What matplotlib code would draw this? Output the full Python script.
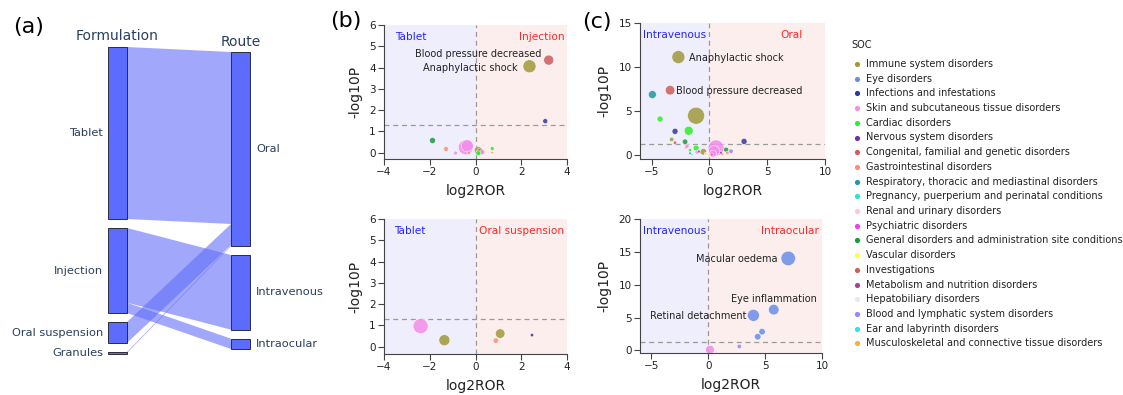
import matplotlib
matplotlib.use('Agg')
import matplotlib.pyplot as plt
from matplotlib.patches import Polygon, Rectangle

plt.rcParams['font.family'] = ['DejaVu Sans']

# ---- (a) sankey data
left_nodes = ['Tablet', 'Injection', 'Oral suspension', 'Granules']
right_nodes = ['Oral', 'Intravenous', 'Intraocular']
link_src = ['Tablet', 'Oral suspension', 'Granules', 'Injection', 'Injection']
link_dst = ['Oral', 'Oral', 'Oral', 'Intravenous', 'Intraocular']
link_val = [516, 63, 3, 224, 31]

# ---- SOC legend
soc_key = ['Immune', 'Eye', 'Infections', 'Skin', 'Cardiac', 'Nervous',
           'Congenital', 'Gastro', 'Respiratory', 'Pregnancy', 'Renal',
           'Psychiatric', 'General', 'Vascular', 'Investigations',
           'Metabolism', 'Hepatobiliary', 'Blood', 'Ear', 'Musculoskeletal']
soc_names = ['Immune system disorders', 'Eye disorders',
             'Infections and infestations',
             'Skin and subcutaneous tissue disorders', 'Cardiac disorders',
             'Nervous system disorders',
             'Congenital, familial and genetic disorders',
             'Gastrointestinal disorders',
             'Respiratory, thoracic and mediastinal disorders',
             'Pregnancy, puerperium and perinatal conditions',
             'Renal and urinary disorders', 'Psychiatric disorders',
             'General disorders and administration site conditions',
             'Vascular disorders', 'Investigations',
             'Metabolism and nutrition disorders', 'Hepatobiliary disorders',
             'Blood and lymphatic system disorders',
             'Ear and labyrinth disorders',
             'Musculoskeletal and connective tissue disorders']
soc_colors = ['#a0983a', '#6a8ee8', '#35359e', '#f48ceb', '#2cee2c', '#7a2d9e',
              '#d05a5e', '#fb9070', '#1a9aa5', '#22e6da', '#ffc6ce', '#f23cf2',
              '#169b3e', '#ffff3a', '#cd5c5c', '#b03a9e', '#e6e6fa', '#9d84ee',
              '#22e8f5', '#fdb02b']
COL = dict(zip(soc_key, soc_colors))

# ---- (b) Tablet vs Injection
bt_soc = ['Investigations', 'Immune', 'Infections', 'General', 'Gastro', 'Skin',
          'Skin', 'Skin', 'Gastro', 'Immune', 'Immune', 'Skin', 'Cardiac',
          'Cardiac', 'Gastro']
bt_x = [3.2, 2.36, 3.05, -1.88, -1.29, -0.87, -0.42, -0.36, -0.29, 0.12, 0.2,
        0.3, 0.12, 0.73, 0.73]
bt_y = [4.35, 4.06, 1.48, 0.57, 0.17, -0.02, 0.25, 0.32, 0.0, 0.1, 0.05, 0.02,
        -0.03, 0.19, 0.0]
bt_d = [10, 13, 5, 6, 5, 4, 15, 12, 3.5, 8, 7, 5, 5, 4, 2.5]
bt_lab = [('Blood pressure decreased', 2.9, 4.66, 'right'),
          ('Anaphylactic shock', 1.85, 3.98, 'right')]

# ---- (b) Tablet vs Oral suspension
bb_soc = ['Skin', 'Immune', 'Immune', 'Gastro', 'Infections']
bb_x = [-2.4, -1.36, 1.08, 0.89, 2.47]
bb_y = [0.96, 0.3, 0.61, 0.28, 0.54]
bb_d = [15, 11, 9.5, 5.5, 3.5]

# ---- (c) Intravenous vs Oral
ct_soc = ['Immune', 'Investigations', 'Respiratory', 'Immune', 'Cardiac',
          'Infections', 'Cardiac', 'Immune', 'Investigations', 'General',
          'Infections', 'Gastro', 'Skin', 'Cardiac', 'Cardiac', 'Respiratory',
          'Skin', 'Metabolism', 'Immune', 'Renal', 'Hepatobiliary', 'Vascular',
          'Musculoskeletal', 'Skin', 'Skin', 'Skin', 'Psychiatric', 'General',
          'Blood', 'Gastro', 'Gastro', 'Nervous', 'Ear']
ct_x = [-2.68, -3.4, -4.93, -1.15, -4.27, -2.97, -1.79, -3.26, -2.97, -2.1,
        3.0, -2.0, -1.93, -1.15, -1.67, -1.67, -1.07, -0.9, -0.52, -0.3, -0.1,
        0.0, 0.05, 0.58, 0.4, 0.3, 0.2, 1.45, 1.87, 1.55, 1.1, 1.0, -1.5]
ct_y = [11.14, 7.39, 6.9, 4.5, 4.13, 2.73, 2.8, 1.82, 1.44, 1.55, 1.59, 0.95,
        1.06, 0.83, 0.6, 0.26, 0.38, 0.45, 0.42, 0.2, 0.15, 0.04, 0.02, 0.85,
        0.5, 0.2, 0.1, 0.65, 0.48, 0.3, 0.18, 0.3, 0.1]
ct_d = [13, 9.5, 8, 17, 6, 6, 9, 4.5, 3.5, 5.5, 6, 4, 4, 6, 3.5, 2.5, 4, 3,
        6.5, 3, 3, 4, 3, 16, 11, 7, 3, 5, 4.5, 3.5, 3, 2.5, 2]
ct_lab = [('Anaphylactic shock', -1.76, 11.0, 'left'),
          ('Blood pressure decreased', -2.88, 7.35, 'left')]

# ---- (c) Intravenous vs Intraocular
cb_soc = ['Eye', 'Eye', 'Eye', 'Eye', 'Eye', 'Blood', 'Skin']
cb_x = [7.03, 5.76, 3.97, 4.73, 4.35, 2.73, 0.15]
cb_y = [14.0, 6.2, 5.33, 2.84, 2.08, 0.6, 0.1]
cb_d = [14.5, 10.5, 12, 6.5, 6.5, 4.5, 9]
cb_lab = [('Macular oedema', 6.09, 13.9, 'right'),
          ('Eye inflammation', 5.74, 7.87, 'center'),
          ('Retinal detachment', 3.32, 5.18, 'right')]

W, H = 1123, 395
fig = plt.figure(figsize=(W / 100, H / 100), dpi=100)

# overlay in pixel coordinates for the sankey, letters and legend
ov = fig.add_axes([0, 0, 1, 1])
ov.set_xlim(0, W)
ov.set_ylim(H, 0)
ov.axis('off')

NAVY = '#2a3f5f'
scale = 1 / 3
gap = 9
cy = 200.5


def stack(nodes, side):
    tot = {n: 0 for n in nodes}
    for s, d, v in zip(link_src, link_dst, link_val):
        tot[s if side == 'L' else d] += v
    hs = [max(tot[n] * scale, 2) for n in nodes]
    top = cy - (sum(hs) + gap * (len(nodes) - 1)) / 2
    pos = {}
    for n, h in zip(nodes, hs):
        pos[n] = [top, h]
        top += h + gap
    return pos


lpos = stack(left_nodes, 'L')
rpos = stack(right_nodes, 'R')
lx0, lx1 = 108, 127
rx0, rx1 = 231, 250
lcur = {n: p[0] for n, p in lpos.items()}
rcur = {n: p[0] for n, p in rpos.items()}
for s, d, v in zip(link_src, link_dst, link_val):
    h = v * scale
    y0, y1 = lcur[s], rcur[d]
    ov.add_patch(Polygon([(lx1, y0), (rx0, y1), (rx0, y1 + h), (lx1, y0 + h)],
                         closed=True, fc='#636efa', alpha=0.6, lw=0))
    lcur[s] += h
    rcur[d] += h
for n, (t, h) in lpos.items():
    ov.add_patch(Rectangle((lx0, t), lx1 - lx0, h, fc='#5b6cff', ec='#2b2b3b', lw=0.7))
    ov.text(lx0 - 5, t + h / 2, n, ha='right', va='center', fontsize=8.2, color=NAVY)
for n, (t, h) in rpos.items():
    ov.add_patch(Rectangle((rx0, t), rx1 - rx0, h, fc='#5b6cff', ec='#2b2b3b', lw=0.7))
    ov.text(rx1 + 6, t + h / 2, n, ha='left', va='center', fontsize=8.2, color=NAVY)
ov.text((lx0 + lx1) / 2, lpos['Tablet'][0] - 11, 'Formulation', ha='center',
        va='center', fontsize=10, color=NAVY)
ov.text((rx0 + rx1) / 2, rpos['Oral'][0] - 10, 'Route', ha='center',
        va='center', fontsize=10, color=NAVY)

ov.text(13, 27, '(a)', fontsize=16, va='center')
ov.text(330, 21, '(b)', fontsize=16, va='center')
ov.text(582, 22, '(c)', fontsize=16, va='center')

# legend
ov.text(851, 45, 'SOC', fontsize=7.1, va='center', color='#222')
for i, (nm, c) in enumerate(zip(soc_names, soc_colors)):
    yy = 64 + i * 14.7
    ov.scatter([857], [yy], s=14, color=c, lw=0)
    ov.text(866, yy, nm, fontsize=7.0, va='center', color='#222')


def ax_at(l, t, r, b):
    return fig.add_axes([l / W, 1 - b / H, (r - l) / W, (b - t) / H])


def volcano(ax, xs, ys, ds, socs, xlim, ylim, xt, yt, ltxt, rtxt, lpos_x,
            rpos_x, labs):
    ax.axvspan(xlim[0], 0, color='#eeeefd', lw=0, zorder=0)
    ax.axvspan(0, xlim[1], color='#fdeeee', lw=0, zorder=0)
    ax.axvline(0, color='#9a9a9a', lw=0.9, ls=(0, (4, 3)), zorder=1)
    ax.axhline(1.3, color='#9a9a9a', lw=0.9, ls=(0, (4, 3)), zorder=1)
    ax.scatter(xs, ys, s=[(d * 0.72) ** 2 for d in ds],
               c=[COL[k] for k in socs], alpha=0.85, edgecolors='white',
               linewidths=0.4, zorder=3)
    for txt, x, y, ha in labs:
        ax.text(x, y, txt, ha=ha, va='center', fontsize=7, color='#222', zorder=4)
    ax.text(lpos_x, 0.91, ltxt, transform=ax.transAxes, color='#2424ff',
            fontsize=7.6, va='center', ha='left')
    ax.text(rpos_x, 0.91, rtxt, transform=ax.transAxes, color='#ff2828',
            fontsize=7.6, va='center', ha='right')
    ax.set_xlim(xlim)
    ax.set_ylim(ylim)
    ax.set_xticks(xt)
    ax.set_yticks(yt)
    for sp in ['top', 'right']:
        ax.spines[sp].set_visible(False)
    for sp in ['left', 'bottom']:
        ax.spines[sp].set_color('#444')
        ax.spines[sp].set_linewidth(0.8)
    ax.tick_params(length=4, width=0.8, color='#444', labelsize=7.5,
                   labelcolor='#222', pad=2)
    ax.set_xlabel('log2ROR', fontsize=10, color='#222', labelpad=5)
    ax.set_ylabel('-log10P', fontsize=10, color='#222', labelpad=5)


a1 = ax_at(384, 25, 567, 159)
volcano(a1, bt_x, bt_y, bt_d, bt_soc, (-4, 4), (-0.3, 6), [-4, -2, 0, 2, 4],
        range(0, 7), 'Tablet', 'Injection', 0.058, 0.985, bt_lab)
a2 = ax_at(384, 219, 567, 354)
volcano(a2, bb_x, bb_y, bb_d, bb_soc, (-4, 4), (-0.35, 6), [-4, -2, 0, 2, 4],
        range(0, 7), 'Tablet', 'Oral suspension', 0.053, 0.985, [])
a3 = ax_at(640, 23, 825, 159)
volcano(a3, ct_x, ct_y, ct_d, ct_soc, (-6, 10), (-0.4, 15), [-5, 0, 5, 10],
        [0, 5, 10, 15], 'Intravenous', 'Oral', 0.015, 0.88, ct_lab)
a4 = ax_at(640, 219, 822, 353)
volcano(a4, cb_x, cb_y, cb_d, cb_soc, (-6, 10), (-0.4, 20), [-5, 0, 5, 10],
        [0, 5, 10, 15, 20], 'Intravenous', 'Intraocular', 0.015, 0.985, cb_lab)

fig.savefig('out.png', dpi=100)
